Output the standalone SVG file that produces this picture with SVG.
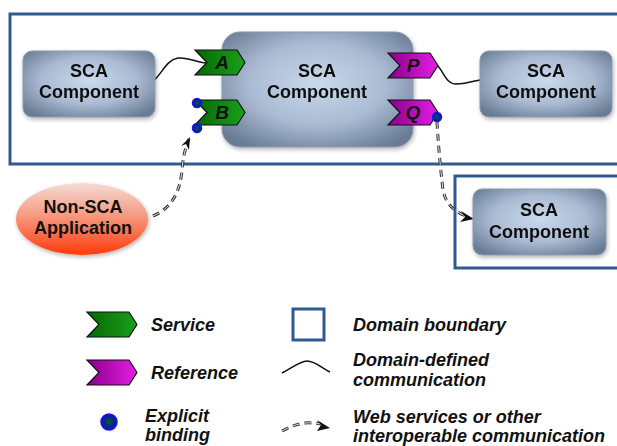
<svg xmlns="http://www.w3.org/2000/svg" width="617" height="446" viewBox="0 0 617 446">
<defs>
<radialGradient id="comp" cx="50%" cy="45%" r="65%">
<stop offset="0" stop-color="#c9daee"/>
<stop offset="0.55" stop-color="#a9bad2"/>
<stop offset="1" stop-color="#6a7b94"/>
</radialGradient>
<linearGradient id="app" x1="0" y1="0" x2="0" y2="1">
<stop offset="0" stop-color="#f4dcd6"/>
<stop offset="0.45" stop-color="#f59a80"/>
<stop offset="1" stop-color="#ff3a0a"/>
</linearGradient>
<linearGradient id="svc" x1="0" y1="0" x2="1" y2="0">
<stop offset="0" stop-color="#066806"/>
<stop offset="1" stop-color="#1aa01a"/>
</linearGradient>
<linearGradient id="ref" x1="0" y1="0" x2="1" y2="0">
<stop offset="0" stop-color="#8a008a"/>
<stop offset="1" stop-color="#e41ee4"/>
</linearGradient>
<radialGradient id="dot" cx="50%" cy="50%" r="50%">
<stop offset="0" stop-color="#0d5a3a"/>
<stop offset="0.6" stop-color="#0a2a7a"/>
<stop offset="1" stop-color="#1010e8"/>
</radialGradient>
<filter id="sh" x="-10%" y="-10%" width="125%" height="130%">
<feGaussianBlur in="SourceAlpha" stdDeviation="2"/>
<feOffset dx="1" dy="2"/>
<feComponentTransfer><feFuncA type="linear" slope="0.3"/></feComponentTransfer>
<feMerge><feMergeNode/><feMergeNode in="SourceGraphic"/></feMerge>
</filter>
<path id="chev" d="M0,0 L42,0 L50,12.5 L42,25 L0,25 L12,12.5 Z"/>
</defs>
<style>
.dom{fill:none;stroke:#2f5a8f;stroke-width:3}
.comp{fill:url(#comp);stroke:#8a9ab0;stroke-width:1}
.t{font-family:"Liberation Sans",Arial,sans-serif;font-weight:bold;font-size:18px;fill:#111;text-anchor:middle}
.lt{font-family:"Liberation Sans",Arial,sans-serif;font-weight:bold;font-style:italic;font-size:18px;fill:#111}
.pl{font-family:"Liberation Sans",Arial,sans-serif;font-weight:bold;font-style:italic;font-size:19px;fill:#111;text-anchor:middle}
.svc{fill:url(#svc);stroke:#111;stroke-width:1.2}
.ref{fill:url(#ref);stroke:#111;stroke-width:1.2}
.dot{fill:url(#dot);stroke:#1414ee;stroke-width:1.5}
.wire{fill:none;stroke:#111;stroke-width:1.5}
.ws1{fill:none;stroke:#333;stroke-width:3;stroke-dasharray:7 5}
.ws2{fill:none;stroke:#e4e4e4;stroke-width:1;stroke-dasharray:7 5}
</style>

<g id="domain-main"><rect class="dom" x="10" y="14" width="620" height="150"/></g>
<g id="domain-remote"><rect class="dom" x="455" y="176" width="175" height="92"/></g>

<g id="connectors">
<path class="wire" d="M154,80 C162,74 166,60 178,58 C188,57 196,62 206,63"/>
<path class="wire" d="M437,65 C444,72 446,84 456,84 C466,84 472,81 480,80"/>
<path class="ws1" d="M153,216 C172,208 180,192 182,170 C183,158 185,148 189,139"/>
<path class="ws2" d="M153,216 C172,208 180,192 182,170 C183,158 185,148 189,139"/>
<path d="M190,137 L181,146 L186,144 L189,150 Z" fill="#111"/>
<path class="ws1" d="M437,122 C438,140 440,165 443,190 C446,205 455,212 466,216"/>
<path class="ws2" d="M437,122 C438,140 440,165 443,190 C446,205 455,212 466,216"/>
<path d="M474,219 L461,211 L465,217 L460,222 Z" fill="#111"/>
</g>

<g id="comp-left" filter="url(#sh)">
<rect class="comp" x="23" y="51" width="132" height="66" rx="9"/>
<text class="t" x="89" y="77">SCA</text>
<text class="t" x="89" y="98">Component</text>
</g>

<g id="comp-center" filter="url(#sh)">
<rect class="comp" x="222" y="32" width="191" height="115" rx="18"/>
<text class="t" x="317" y="77">SCA</text>
<text class="t" x="317" y="98">Component</text>
</g>

<g id="comp-right" filter="url(#sh)">
<rect class="comp" x="480" y="51" width="132" height="66" rx="9"/>
<text class="t" x="546" y="77">SCA</text>
<text class="t" x="546" y="98">Component</text>
</g>

<g id="comp-remote" filter="url(#sh)">
<rect class="comp" x="473" y="189" width="133" height="66" rx="9"/>
<text class="t" x="539" y="216">SCA</text>
<text class="t" x="539" y="238">Component</text>
</g>

<g id="non-sca-app">
<ellipse cx="82" cy="219" rx="66" ry="36" fill="url(#app)" filter="url(#sh)"/>
<text class="t" x="83" y="213">Non-SCA</text>
<text class="t" x="83" y="234">Application</text>
</g>

<g id="service-A">
<use href="#chev" class="svc" x="195" y="50"/>
<text class="pl" x="222" y="69">A</text>
</g>
<g id="service-B">
<use href="#chev" class="svc" x="195" y="100"/>
<text class="pl" x="222" y="119">B</text>
<circle class="dot" cx="197" cy="103" r="4.5"/>
<circle class="dot" cx="197" cy="128" r="4.5"/>
</g>
<g id="reference-P">
<use href="#chev" class="ref" x="388" y="53"/>
<text class="pl" x="413" y="72">P</text>
</g>
<g id="reference-Q">
<use href="#chev" class="ref" x="388" y="100"/>
<text class="pl" x="413" y="119">Q</text>
<circle class="dot" cx="437" cy="117" r="4.5"/>
</g>

<g id="legend-service">
<use href="#chev" class="svc" x="87" y="312"/>
<text class="lt" x="151" y="331">Service</text>
</g>
<g id="legend-reference">
<use href="#chev" class="ref" x="87" y="360"/>
<text class="lt" x="151" y="379">Reference</text>
</g>
<g id="legend-binding">
<circle class="dot" cx="109" cy="422" r="8"/>
<text class="lt" x="145" y="422">Explicit</text>
<text class="lt" x="145" y="441">binding</text>
</g>
<g id="legend-domain">
<rect class="dom" x="293" y="309" width="31" height="31"/>
<text class="lt" x="353" y="331">Domain boundary</text>
</g>
<g id="legend-wire">
<path class="wire" d="M282,373 C292,368 300,361 307,361 C315,361 322,368 330,372"/>
<text class="lt" x="353" y="366">Domain-defined</text>
<text class="lt" x="353" y="386">communication</text>
</g>
<g id="legend-ws">
<path class="ws1" d="M282,431 C295,424 305,421 321,424"/>
<path class="ws2" d="M282,431 C295,424 305,421 321,424"/>
<path d="M330,428 L317,420 L321,425 L317,431 Z" fill="#111"/>
<text class="lt" x="353" y="423">Web services or other</text>
<text class="lt" x="353" y="442">interoperable communication</text>
</g>
</svg>
